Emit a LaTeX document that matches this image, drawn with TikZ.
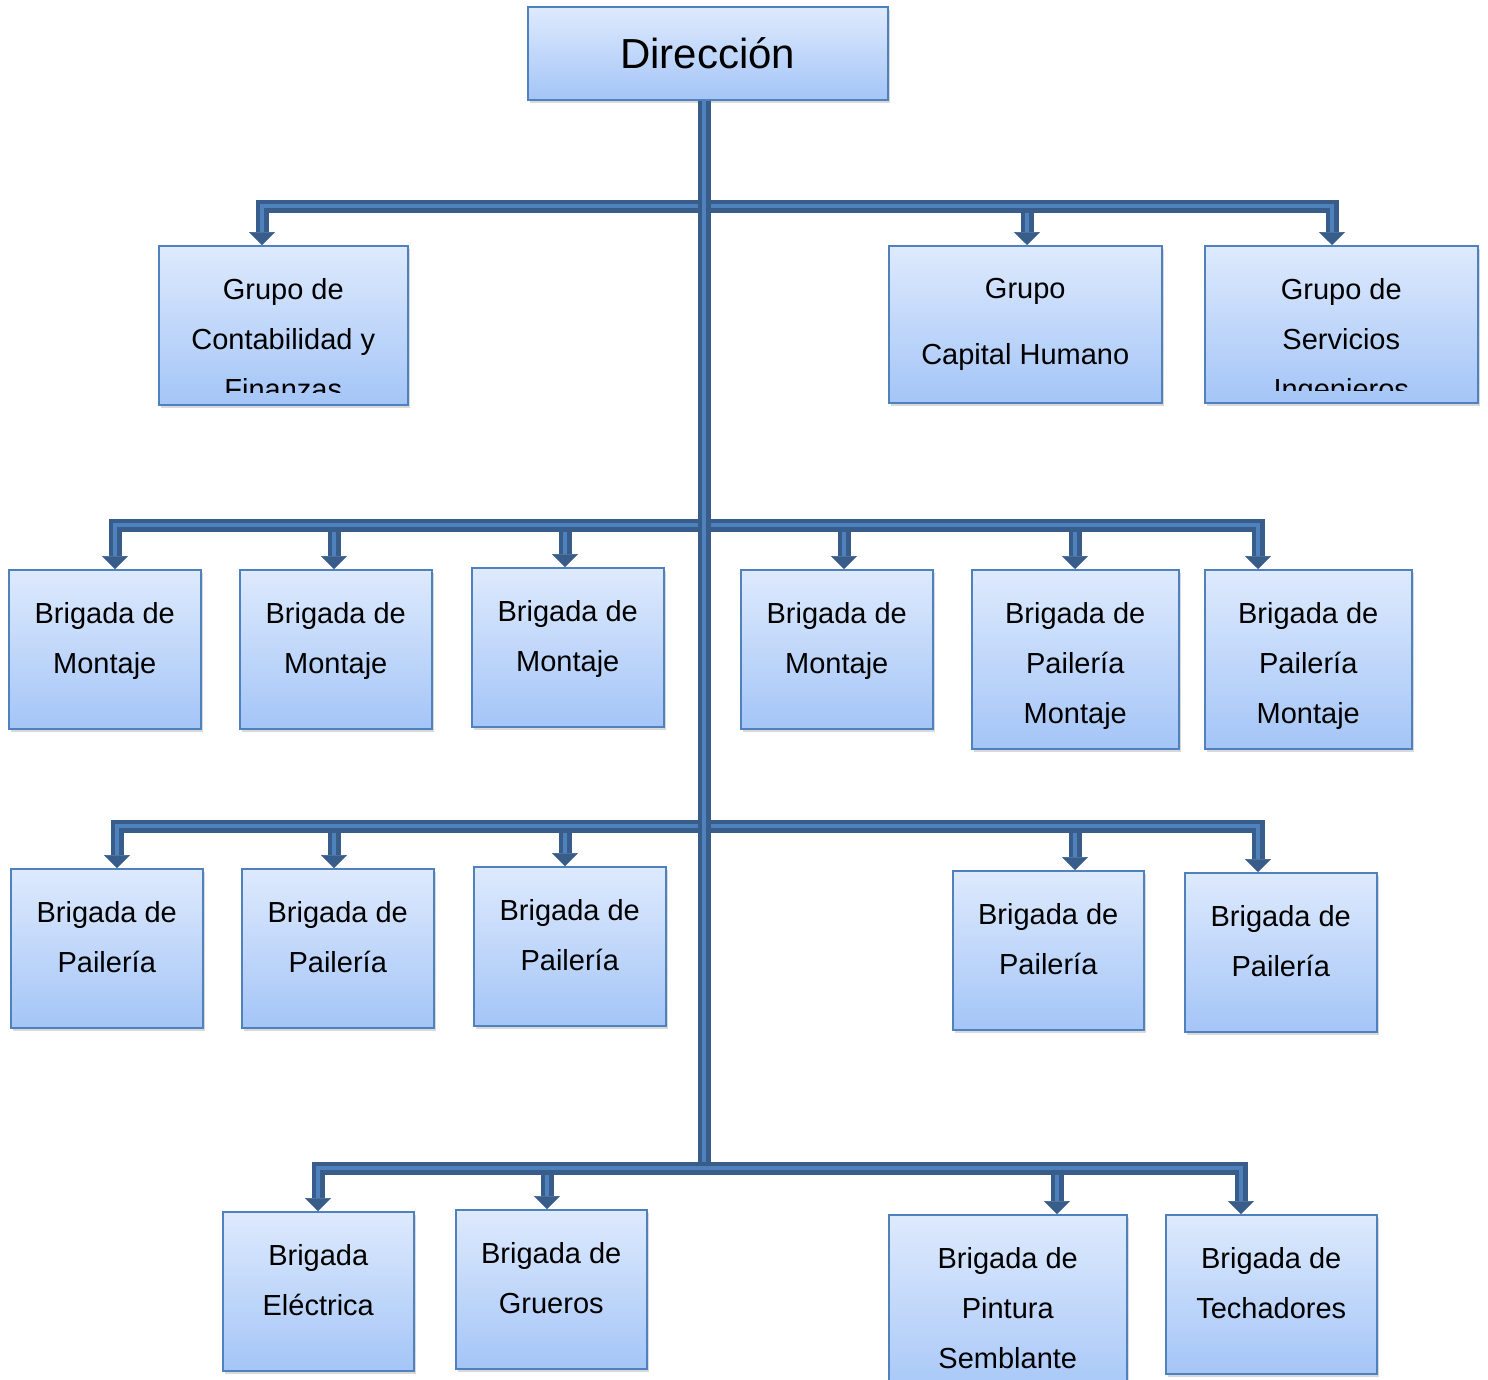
\documentclass[tikz,border=0pt]{standalone}
\usepackage{fontspec}
\setmainfont{Liberation Sans}
\usetikzlibrary{arrows.meta,positioning,calc,shadows}

\definecolor{conndark}{RGB}{56,93,138}
\definecolor{connlight}{RGB}{79,129,189}
\definecolor{boxline}{RGB}{79,129,189}
\definecolor{boxtop}{RGB}{222,234,253}
\definecolor{boxbottom}{RGB}{164,197,247}

\tikzset{
  unit/.style 2 args={draw=boxline, line width=1.5pt, top color=boxtop, bottom color=boxbottom,
    drop shadow={shadow xshift=2pt, shadow yshift=-3pt, opacity=0.3},
    anchor=north west, inner sep=0pt, minimum width=#1, minimum height=#2},
  unittext/.style={anchor=north, align=center, inner sep=0pt, font=\fontsize{29pt}{50pt}\selectfont},
  orgtip/.tip={Triangle[width=26pt, length=13pt, line width=0.5pt]},
  bus/.style={draw=conndark, line width=13pt, line join=miter},
  businner/.style={draw=connlight, line width=4pt, line join=miter},
}

\begin{document}
\begin{tikzpicture}[x=1pt, y=-1pt]
    \useasboundingbox (0,0) rectangle (1488,1379);

    % boxes
    \node[unit={360pt}{93pt}] (dir) at (527,6) {};
    \node[font=\fontsize{42pt}{50pt}\selectfont, inner sep=0pt] (dirt) at (dir.center) {Dirección};

    \node[unit={249pt}{159pt}] (g1) at (158,245) {};
    \node[unit={273pt}{157pt}] (g2) at (888,245) {};
    \node[unit={273pt}{157pt}] (g3) at (1204,245) {};
    \begin{scope}
        \clip (g1.north west) rectangle ([yshift=13pt]g1.south east);
        \node[unittext] (g1t) at ([yshift=-33pt]g1.north) {Grupo de\\Contabilidad y\\Finanzas};
    \end{scope}
    \node[unittext] (g2t) at ([yshift=-33pt]g2.north) {Grupo\\[16pt]Capital Humano};
    \begin{scope}
        \clip (g3.north west) rectangle ([yshift=13pt]g3.south east);
        \node[unittext] (g3t) at ([yshift=-33pt]g3.north) {Grupo de\\Servicios\\Ingenieros};
    \end{scope}

    \node[unit={192pt}{159pt}] (m1) at (8,569) {};
    \node[unit={192pt}{159pt}] (m2) at (239,569) {};
    \node[unit={192pt}{159pt}] (m3) at (471,567) {};
    \node[unit={192pt}{159pt}] (m4) at (740,569) {};
    \node[unit={207pt}{179pt}] (m5) at (971,569) {};
    \node[unit={207pt}{179pt}] (m6) at (1204,569) {};
    \node[unittext] (m1t) at ([yshift=-33pt]m1.north) {Brigada de\\Montaje};
    \node[unittext] (m2t) at ([yshift=-33pt]m2.north) {Brigada de\\Montaje};
    \node[unittext] (m3t) at ([yshift=-33pt]m3.north) {Brigada de\\Montaje};
    \node[unittext] (m4t) at ([yshift=-33pt]m4.north) {Brigada de\\Montaje};
    \node[unittext] (m5t) at ([yshift=-33pt]m5.north) {Brigada de\\Pailería\\Montaje};
    \node[unittext] (m6t) at ([yshift=-33pt]m6.north) {Brigada de\\Pailería\\Montaje};

    \node[unit={192pt}{159pt}] (p1) at (10,868) {};
    \node[unit={192pt}{159pt}] (p2) at (241,868) {};
    \node[unit={192pt}{159pt}] (p3) at (473,866) {};
    \node[unit={191pt}{159pt}] (p4) at (952,870) {};
    \node[unit={192pt}{159pt}] (p5) at (1184,872) {};
    \node[unittext] (p1t) at ([yshift=-33pt]p1.north) {Brigada de\\Pailería};
    \node[unittext] (p2t) at ([yshift=-33pt]p2.north) {Brigada de\\Pailería};
    \node[unittext] (p3t) at ([yshift=-33pt]p3.north) {Brigada de\\Pailería};
    \node[unittext] (p4t) at ([yshift=-33pt]p4.north) {Brigada de\\Pailería};
    \node[unittext] (p5t) at ([yshift=-33pt]p5.north) {Brigada de\\Pailería};

    \node[unit={191pt}{159pt}] (b1) at (222,1211) {};
    \node[unit={191pt}{159pt}] (b2) at (455,1209) {};
    \node[unit={238pt}{190pt}] (b3) at (888,1214) {};
    \node[unit={211pt}{159pt}] (b4) at (1165,1214) {};
    \node[unittext] (b1t) at ([yshift=-33pt]b1.north) {Brigada\\Eléctrica};
    \node[unittext] (b2t) at ([yshift=-33pt]b2.north) {Brigada de\\Grueros};
    \node[unittext] (b3t) at ([yshift=-33pt]b3.north) {Brigada de\\Pintura\\Semblante};
    \node[unittext] (b4t) at ([yshift=-33pt]b4.north) {Brigada de\\Techadores};

    % bus lines and drop points
    \coordinate (bus1) at (704,206);
    \coordinate (bus2) at (704,525);
    \coordinate (bus3) at (704,826);
    \coordinate (bus4) at (704,1168);
    \coordinate (g1in) at ($(g1.north west)+(104,0)$);
    \coordinate (g2in) at ($(g2.north west)+(139,0)$);
    \coordinate (g3in) at ($(g3.north west)+(128,0)$);
    \coordinate (m1in) at ($(m1.north west)+(107,0)$);
    \coordinate (m2in) at ($(m2.north west)+(95,0)$);
    \coordinate (m3in) at ($(m3.north west)+(94,0)$);
    \coordinate (m4in) at ($(m4.north west)+(104,0)$);
    \coordinate (m5in) at ($(m5.north west)+(104,0)$);
    \coordinate (m6in) at ($(m6.north west)+(54,0)$);
    \coordinate (p1in) at ($(p1.north west)+(107,0)$);
    \coordinate (p2in) at ($(p2.north west)+(93,0)$);
    \coordinate (p3in) at ($(p3.north west)+(92,0)$);
    \coordinate (p4in) at ($(p4.north west)+(123,0)$);
    \coordinate (p5in) at ($(p5.north west)+(74,0)$);
    \coordinate (b1in) at ($(b1.north west)+(96,0)$);
    \coordinate (b2in) at ($(b2.north west)+(92,0)$);
    \coordinate (b3in) at ($(b3.north west)+(169,0)$);
    \coordinate (b4in) at ($(b4.north west)+(76,0)$);

    % middle drops
    \foreach \d/\b in {g2in/bus1, m2in/bus2, m3in/bus2, m4in/bus2, m5in/bus2,
                       p2in/bus3, p3in/bus3, p4in/bus3, b2in/bus4, b3in/bus4} {
        \draw[bus, -orgtip] (\d |- \b) -- (\d);
        \draw[businner, shorten >=13pt] (\d |- \b) -- (\d);
    }

    % buses with end drops
    \foreach \l/\r/\b in {g1in/g3in/bus1, m1in/m6in/bus2, p1in/p5in/bus3} {
        \draw[bus, orgtip-orgtip] (\l) -- (\l |- \b) -- (\r |- \b) -- (\r);
        \draw[businner, shorten <=13pt, shorten >=13pt] (\l) -- (\l |- \b) -- (\r |- \b) -- (\r);
    }

    % trunk
    \draw[bus] (bus4 |- dir.south) -- (bus4);
    \draw[businner] (bus4 |- dir.south) -- (bus4);

    \draw[bus, orgtip-orgtip] (b1in) -- (b1in |- bus4) -- (b4in |- bus4) -- (b4in);
    \draw[businner, shorten <=13pt, shorten >=13pt] (b1in) -- (b1in |- bus4) -- (b4in |- bus4) -- (b4in);
\end{tikzpicture}
\end{document}
